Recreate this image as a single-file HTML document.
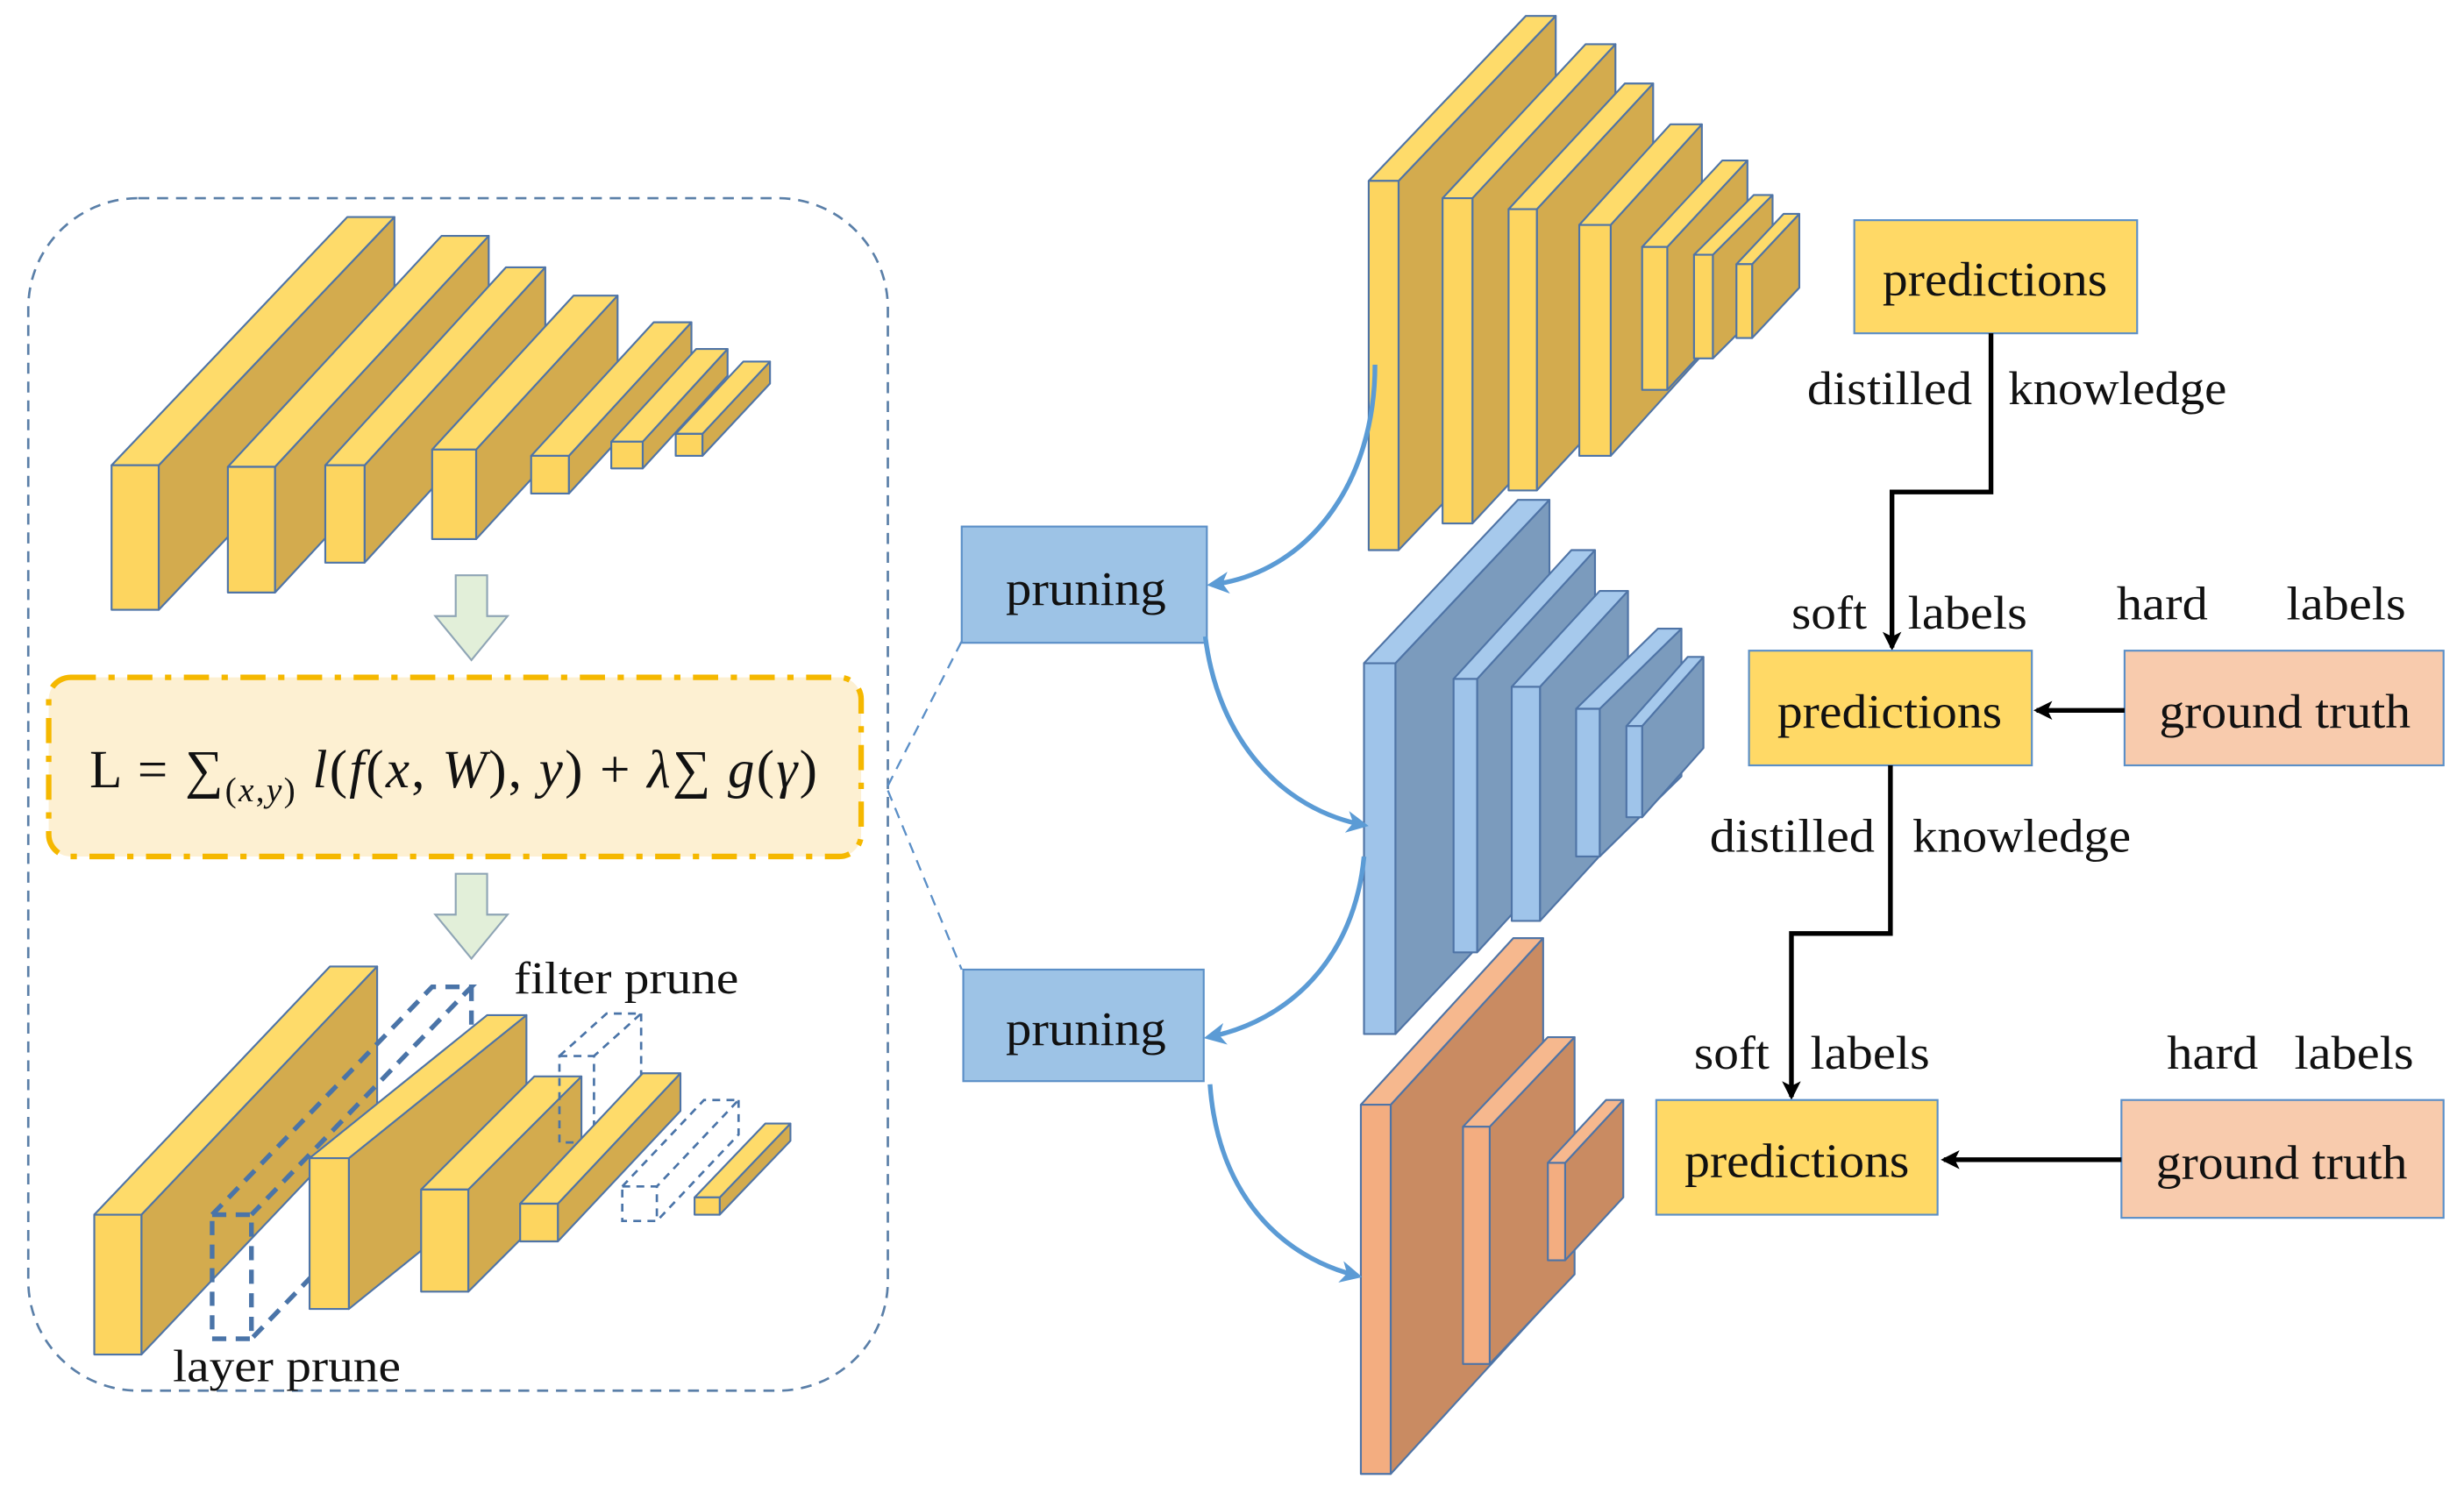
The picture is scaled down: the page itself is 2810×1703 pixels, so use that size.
<!DOCTYPE html>
<html><head><meta charset="utf-8"><style>
html,body{margin:0;padding:0;background:#fff;}
svg{display:block;}
text{font-family:"Liberation Serif",serif;fill:#111;}
.y .f{fill:#fdd55f}.y .s{fill:#d3ab4e}.y .t{fill:#fedb6a}
.b .f{fill:#9fc4ea}.b .s{fill:#7b9bbd}.b .t{fill:#a6c9ec}
.o .f{fill:#f3ad80}.o .s{fill:#c98b62}.o .t{fill:#f6b88e}
.y *,.b *,.o *{stroke:#4f74a6;stroke-width:1.2;stroke-linejoin:round}
.d *{fill:none;stroke:#4a74a8;stroke-width:3;stroke-dasharray:9 6}
.d2 *{fill:none;stroke:#4a74a8;stroke-width:1.5;stroke-dasharray:5 4}
</style></head><body>
<svg width="2810" height="1703" viewBox="0 0 1568 950" xmlns="http://www.w3.org/2000/svg">
<defs>
<marker id="ab" markerWidth="14" markerHeight="14" refX="11" refY="7" orient="auto" markerUnits="userSpaceOnUse"><path d="M0,0 L14,7 L0,14 L4,7z" fill="#5b9bd5"/></marker>
<marker id="ak" markerWidth="12" markerHeight="12" refX="10" refY="6" orient="auto" markerUnits="userSpaceOnUse"><path d="M0,0 L12,6 L0,12 L3,6z" fill="#000"/></marker>
</defs>
<rect x="18" y="126" width="547" height="759" rx="70" fill="none" stroke="#5a7fa8" stroke-width="1.5" stroke-dasharray="7 5"/>

<g class="y">
<polygon class="s" points="101,296 251,138 251,230 101,388"/><polygon class="t" points="71,296 221,138 251,138 101,296"/><rect class="f" x="71" y="296" width="30" height="92"/>
<polygon class="s" points="175,297 311,150 311,230 175,377"/><polygon class="t" points="145,297 281,150 311,150 175,297"/><rect class="f" x="145" y="297" width="30" height="80"/>
<polygon class="s" points="232,296 347,170 347,232 232,358"/><polygon class="t" points="207,296 322,170 347,170 232,296"/><rect class="f" x="207" y="296" width="25" height="62"/>
<polygon class="s" points="303,286 393,188 393,245 303,343"/><polygon class="t" points="275,286 365,188 393,188 303,286"/><rect class="f" x="275" y="286" width="28" height="57"/>
<polygon class="s" points="362,290 440,205 440,229 362,314"/><polygon class="t" points="338,290 416,205 440,205 362,290"/><rect class="f" x="338" y="290" width="24" height="24"/>
<polygon class="s" points="409,281 463,222 463,239 409,298"/><polygon class="t" points="389,281 443,222 463,222 409,281"/><rect class="f" x="389" y="281" width="20" height="17"/>
<polygon class="s" points="447,276 490,230 490,244 447,290"/><polygon class="t" points="430,276 473,230 490,230 447,276"/><rect class="f" x="430" y="276" width="17" height="14"/>
</g>

<polygon points="290,366 310,366 310,392 323,392 300,420 277,392 290,392" fill="#e2efd9" stroke="#8fa5b5" stroke-width="1.2"/>
<polygon points="290,556 310,556 310,582 323,582 300,610 277,582 290,582" fill="#e2efd9" stroke="#8fa5b5" stroke-width="1.2"/>

<rect x="31" y="431" width="517" height="114" rx="14" fill="#fdf0d2" stroke="#f5b800" stroke-width="3.5" stroke-dasharray="16 8 4 8"/>
<text x="57" y="501" font-size="34" textLength="463" lengthAdjust="spacing">L = ∑<tspan font-size="22" dy="9">(<tspan font-style="italic">x</tspan>,<tspan font-style="italic">y</tspan>)</tspan><tspan dy="-9" font-style="italic"> l</tspan>(<tspan font-style="italic">f</tspan>(<tspan font-style="italic">x</tspan>, <tspan font-style="italic">W</tspan>), <tspan font-style="italic">y</tspan>) + <tspan font-style="italic">λ</tspan>∑ <tspan font-style="italic">g</tspan>(<tspan font-style="italic">γ</tspan>)</text>

<g class="y">
<polygon class="s" points="90,773 240,615 240,704 90,862"/><polygon class="t" points="60,773 210,615 240,615 90,773"/><rect class="f" x="60" y="773" width="30" height="89"/>
</g>
<g class="d">
<rect x="135" y="773" width="25" height="79"/><polyline points="135,773 275,628 300,628 160,773"/><polyline points="300,628 300,707 160,852"/>
</g>
<g class="y">
<polygon class="s" points="222,737 335,646 335,742 222,833"/><polygon class="t" points="197,737 310,646 335,646 222,737"/><rect class="f" x="197" y="737" width="25" height="96"/>
<polygon class="s" points="298,757 370,685 370,750 298,822"/><polygon class="t" points="268,757 340,685 370,685 298,757"/><rect class="f" x="268" y="757" width="30" height="65"/>
</g>
<g class="d2">
<rect x="356" y="672" width="22" height="55"/><polyline points="356,672 386,645 408,645 378,672"/><polyline points="408,645 408,700 378,727"/>
<rect x="396" y="755" width="22" height="22"/><polyline points="396,755 448,700 470,700 418,755"/><polyline points="470,700 470,722 418,777"/>
</g>
<g class="y">
<polygon class="s" points="355,766 433,683 433,707 355,790"/><polygon class="t" points="331,766 409,683 433,683 355,766"/><rect class="f" x="331" y="766" width="24" height="24"/>
<polygon class="s" points="458,762 503,715 503,726 458,773"/><polygon class="t" points="442,762 487,715 503,715 458,762"/><rect class="f" x="442" y="762" width="16" height="11"/>
</g>
<text x="327" y="632" font-size="29" textLength="143" lengthAdjust="spacingAndGlyphs">filter prune</text>
<text x="110" y="879" font-size="29" textLength="145" lengthAdjust="spacingAndGlyphs">layer prune</text>

<path d="M565,500 L612,408 M565,503 L612,617" stroke="#5b8fc7" stroke-width="1.3" stroke-dasharray="7 5" fill="none"/>

<rect x="612" y="335" width="156" height="74" fill="#9dc3e6" stroke="#5b8fc7" stroke-width="1.2"/>
<text x="640" y="385" font-size="31" textLength="102" lengthAdjust="spacingAndGlyphs">pruning</text>
<rect x="613" y="617" width="153" height="71" fill="#9dc3e6" stroke="#5b8fc7" stroke-width="1.2"/>
<text x="640" y="665" font-size="31" textLength="102" lengthAdjust="spacingAndGlyphs">pruning</text>

<g class="y">
<polygon class="s" points="890,115 990,10 990,245 890,350"/><polygon class="t" points="871,115 971,10 990,10 890,115"/><rect class="f" x="871" y="115" width="19" height="235"/>
<polygon class="s" points="937,126 1028,28 1028,235 937,333"/><polygon class="t" points="918,126 1009,28 1028,28 937,126"/><rect class="f" x="918" y="126" width="19" height="207"/>
<polygon class="s" points="978,133 1052,53 1052,232 978,312"/><polygon class="t" points="960,133 1034,53 1052,53 978,133"/><rect class="f" x="960" y="133" width="18" height="179"/>
<polygon class="s" points="1025,143 1083,79 1083,226 1025,290"/><polygon class="t" points="1005,143 1063,79 1083,79 1025,143"/><rect class="f" x="1005" y="143" width="20" height="147"/>
<polygon class="s" points="1061,157 1112,102 1112,193 1061,248"/><polygon class="t" points="1045,157 1096,102 1112,102 1061,157"/><rect class="f" x="1045" y="157" width="16" height="91"/>
<polygon class="s" points="1090,162 1128,124 1128,190 1090,228"/><polygon class="t" points="1078,162 1116,124 1128,124 1090,162"/><rect class="f" x="1078" y="162" width="12" height="66"/>
<polygon class="s" points="1115,168 1145,136 1145,183 1115,215"/><polygon class="t" points="1105,168 1135,136 1145,136 1115,168"/><rect class="f" x="1105" y="168" width="10" height="47"/>
</g>
<g class="b">
<polygon class="s" points="888,422 986,318 986,554 888,658"/><polygon class="t" points="868,422 966,318 986,318 888,422"/><rect class="f" x="868" y="422" width="20" height="236"/>
<polygon class="s" points="940,432 1015,350 1015,524 940,606"/><polygon class="t" points="925,432 1000,350 1015,350 940,432"/><rect class="f" x="925" y="432" width="15" height="174"/>
<polygon class="s" points="980,437 1036,376 1036,525 980,586"/><polygon class="t" points="962,437 1018,376 1036,376 980,437"/><rect class="f" x="962" y="437" width="18" height="149"/>
<polygon class="s" points="1018,451 1070,400 1070,494 1018,545"/><polygon class="t" points="1003,451 1055,400 1070,400 1018,451"/><rect class="f" x="1003" y="451" width="15" height="94"/>
<polygon class="s" points="1045,462 1084,418 1084,476 1045,520"/><polygon class="t" points="1035,462 1074,418 1084,418 1045,462"/><rect class="f" x="1035" y="462" width="10" height="58"/>
</g>
<g class="o">
<polygon class="s" points="885,703 982,597 982,832 885,938"/><polygon class="t" points="866,703 963,597 982,597 885,703"/><rect class="f" x="866" y="703" width="19" height="235"/>
<polygon class="s" points="948,717 1002,660 1002,811 948,868"/><polygon class="t" points="931,717 985,660 1002,660 948,717"/><rect class="f" x="931" y="717" width="17" height="151"/>
<polygon class="s" points="996,740 1033,700 1033,762 996,802"/><polygon class="t" points="985,740 1022,700 1033,700 996,740"/><rect class="f" x="985" y="740" width="11" height="62"/>
</g>

<g fill="none" stroke="#5b9bd5" stroke-width="3">
<path d="M875,232 C875,310 830,365 771,372" marker-end="url(#ab)"/>
<path d="M767,405 C775,470 815,515 868,525" marker-end="url(#ab)"/>
<path d="M868,545 C862,610 820,650 769,660" marker-end="url(#ab)"/>
<path d="M770,690 C775,760 815,800 864,812" marker-end="url(#ab)"/>
</g>

<rect x="1180" y="140" width="180" height="72" fill="#ffd966" stroke="#5b8fc7" stroke-width="1.2"/>
<text x="1198" y="188" font-size="31" textLength="143" lengthAdjust="spacingAndGlyphs">predictions</text>
<text x="1150" y="257" font-size="30" textLength="105" lengthAdjust="spacingAndGlyphs">distilled</text>
<text x="1278" y="257" font-size="30" textLength="139" lengthAdjust="spacingAndGlyphs">knowledge</text>
<polyline points="1267,212 1267,313 1204,313 1204,412" fill="none" stroke="#000" stroke-width="3" marker-end="url(#ak)"/>
<text x="1140" y="400" font-size="30" textLength="48" lengthAdjust="spacingAndGlyphs">soft</text>
<text x="1214" y="400" font-size="30" textLength="76" lengthAdjust="spacingAndGlyphs">labels</text>
<text x="1347" y="394" font-size="30" textLength="58" lengthAdjust="spacingAndGlyphs">hard</text>
<text x="1455" y="394" font-size="30" textLength="76" lengthAdjust="spacingAndGlyphs">labels</text>
<rect x="1113" y="414" width="180" height="73" fill="#ffd966" stroke="#5b8fc7" stroke-width="1.2"/>
<text x="1131" y="463" font-size="31" textLength="143" lengthAdjust="spacingAndGlyphs">predictions</text>
<rect x="1352" y="414" width="203" height="73" fill="#f8cbad" stroke="#5b8fc7" stroke-width="1.2"/>
<text x="1374" y="463" font-size="31" textLength="160" lengthAdjust="spacingAndGlyphs">ground truth</text>
<line x1="1352" y1="452" x2="1296" y2="452" stroke="#000" stroke-width="3" marker-end="url(#ak)"/>
<text x="1088" y="542" font-size="30" textLength="105" lengthAdjust="spacingAndGlyphs">distilled</text>
<text x="1217" y="542" font-size="30" textLength="139" lengthAdjust="spacingAndGlyphs">knowledge</text>
<polyline points="1203,487 1203,594 1140,594 1140,698" fill="none" stroke="#000" stroke-width="3" marker-end="url(#ak)"/>
<text x="1078" y="680" font-size="30" textLength="48" lengthAdjust="spacingAndGlyphs">soft</text>
<text x="1152" y="680" font-size="30" textLength="76" lengthAdjust="spacingAndGlyphs">labels</text>
<text x="1379" y="680" font-size="30" textLength="58" lengthAdjust="spacingAndGlyphs">hard</text>
<text x="1460" y="680" font-size="30" textLength="76" lengthAdjust="spacingAndGlyphs">labels</text>
<rect x="1054" y="700" width="179" height="73" fill="#ffd966" stroke="#5b8fc7" stroke-width="1.2"/>
<text x="1072" y="749" font-size="31" textLength="143" lengthAdjust="spacingAndGlyphs">predictions</text>
<rect x="1350" y="700" width="205" height="75" fill="#f8cbad" stroke="#5b8fc7" stroke-width="1.2"/>
<text x="1372" y="750" font-size="31" textLength="160" lengthAdjust="spacingAndGlyphs">ground truth</text>
<line x1="1350" y1="738" x2="1237" y2="738" stroke="#000" stroke-width="3" marker-end="url(#ak)"/>
</svg>
</body></html>
